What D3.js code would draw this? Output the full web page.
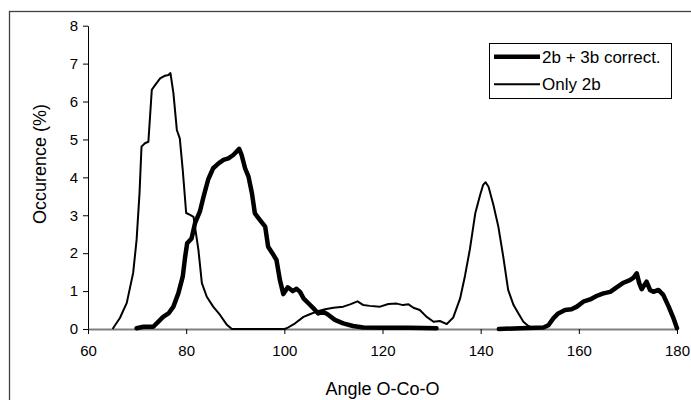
<!DOCTYPE html>
<html>
<head>
<meta charset="utf-8">
<script src="https://cdn.jsdelivr.net/npm/d3@7"></script>
<style>
  body { margin: 0; background: #fff; }
  svg { display: block; font-family: Arial, 'Liberation Sans', sans-serif; }
</style>
</head>
<body>
<script>
// data

const X_TICKS = [60, 80, 100, 120, 140, 160, 180]
const Y_TICKS = [0, 1, 2, 3, 4, 5, 6, 7, 8]

const SERIES_NAMES = ['2b + 3b correct.', 'Only 2b']

// "Only 2b" (thin line)
const only2bAngle = [65.0, 66.5, 67.9, 69.2, 69.9, 70.5, 70.9, 71.6, 72.3, 73.0, 73.7, 74.7, 75.7, 76.4, 76.8,
  77.4, 78.1, 78.7, 79.3, 80.0, 80.8, 81.5, 82.5, 83.2, 84.2, 85.5, 86.9, 88.3, 89.3, 100.0, 100.5, 102.2,
  103.9, 105.2, 106.6, 108.3, 110.0, 112.0, 113.4, 114.9, 116.1, 117.4, 119.5, 121.2, 122.9, 124.2, 125.3,
  126.3, 127.6, 129.0, 130.4, 131.7, 133.1, 134.4, 135.8, 136.8, 137.8, 138.9, 139.9, 140.5, 141.0, 141.6,
  142.6, 143.6, 144.6, 145.6, 146.7, 147.7, 148.7, 149.7, 151.0]
const only2bValue = [0, 0.29, 0.69, 1.48, 2.35, 3.59, 4.81, 4.90, 4.94, 6.31, 6.44, 6.61, 6.68, 6.70, 6.75,
  6.22, 5.25, 5.03, 4.20, 3.06, 3.01, 2.96, 2.08, 1.21, 0.85, 0.59, 0.37, 0.11, 0, 0, 0.02, 0.15,
  0.32, 0.39, 0.46, 0.52, 0.56, 0.59, 0.65, 0.73, 0.63, 0.61, 0.59, 0.66, 0.67, 0.63, 0.65,
  0.56, 0.50, 0.32, 0.19, 0.21, 0.13, 0.30, 0.80, 1.40, 2.10, 3.05, 3.54, 3.80, 3.87, 3.75,
  3.27, 2.70, 1.91, 1.03, 0.63, 0.41, 0.19, 0.08, 0]

// "2b + 3b correct." (thick line), null = gap
const correctedAngle = [69.9, 71.3, 73.3, 74.3, 75.3, 76.4, 77.4, 78.4, 79.3, 79.8, 80.2, 81.1, 81.8, 82.8,
  83.6, 84.5, 85.5, 86.6, 87.6, 88.6, 89.6, 90.8, 91.3, 92.0, 92.7, 93.4, 94.0, 95.0, 96.1, 96.7, 97.8,
  98.4, 99.1, 99.8, 100.7, 101.7, 102.5, 103.2, 103.9, 104.9, 105.9, 106.9, 107.9, 109.0, 110.3, 112.0,
  114.0, 116.1, 120.9, 125.6, 131.0, 137.0, 143.7, 148.0, 152.8, 153.8, 154.8, 155.8, 157.2, 158.5, 159.6,
  160.9, 162.3, 163.6, 165.0, 166.4, 167.7, 169.1, 170.4, 171.1, 171.8, 172.3, 172.8, 173.8, 174.5, 175.2,
  176.2, 177.2, 178.3, 179.3, 180.0]
const correctedValue = [0.02, 0.06, 0.06, 0.19, 0.32, 0.41, 0.59, 0.94, 1.38, 1.91, 2.26, 2.39, 2.79, 3.10,
  3.52, 3.95, 4.24, 4.37, 4.46, 4.50, 4.59, 4.75, 4.59, 4.24, 4.02, 3.58, 3.05, 2.88, 2.70, 2.17, 1.95,
  1.82, 1.29, 0.92, 1.10, 1.00, 1.06, 0.98, 0.81, 0.68, 0.55, 0.41, 0.46, 0.37, 0.24, 0.15,
  0.08, 0.04, 0.03, 0.03, 0.02, null, 0, 0.02, 0.04, 0.10, 0.28, 0.41, 0.50, 0.52, 0.59,
  0.72, 0.78, 0.87, 0.94, 0.98, 1.10, 1.22, 1.29, 1.35, 1.47, 1.21, 1.05, 1.25, 1.03, 0.98,
  1.03, 0.90, 0.59, 0.28, 0.02]

// layout

const WIDTH = 691, HEIGHT = 400
const PLOT = { left: 88, right: 677, top: 25.7, bottom: 329 }

const svg = d3.select('body').append('svg')
  .attr('width', WIDTH)
  .attr('height', HEIGHT)

// chart border (runs off the right / bottom of the picture)
svg.append('rect')
  .attr('x', 9.5).attr('y', 11.5)
  .attr('width', 700).attr('height', 400)
  .attr('fill', 'none')
  .attr('stroke', '#404040')
  .attr('stroke-width', 1.3)

const x = d3.scaleLinear().domain([60, 180]).range([PLOT.left, PLOT.right])
const y = d3.scaleLinear().domain([0, 8]).range([PLOT.bottom, PLOT.top])

// y axis
const yAxis = svg.append('g')
  .attr('transform', 'translate(' + PLOT.left + ',0)')
  .call(d3.axisLeft(y).tickValues(Y_TICKS).tickSize(5).tickPadding(5).tickSizeOuter(0))
yAxis.select('.domain').attr('stroke', '#000')
yAxis.selectAll('text').attr('font-size', 15).attr('fill', '#000').attr('font-family', null)

// x axis
const xAxis = svg.append('g')
  .attr('transform', 'translate(0,' + PLOT.bottom + ')')
  .call(d3.axisBottom(x).tickValues(X_TICKS).tickSize(5).tickPadding(11).tickSizeOuter(0))
xAxis.select('.domain').attr('stroke', '#808080').attr('stroke-width', 2)
xAxis.selectAll('text').attr('font-size', 15).attr('fill', '#000').attr('font-family', null)

// axis titles
svg.append('text')
  .attr('x', (PLOT.left + PLOT.right) / 2)
  .attr('y', 395)
  .attr('text-anchor', 'middle')
  .attr('font-size', 18)
  .text('Angle O-Co-O')

svg.append('text')
  .attr('transform', 'translate(46,164) rotate(-90)')
  .attr('text-anchor', 'middle')
  .attr('font-size', 18)
  .text('Occurence (%)')

// lines
const line = d3.line()
  .defined((d) => d[1] !== null)
  .x((d) => x(d[0]))
  .y((d) => y(d[1]))

const only2b = only2bAngle.map((a, i) => [a, only2bValue[i]])
const corrected = correctedAngle.map((a, i) => [a, correctedValue[i]])

svg.append('path')
  .attr('d', line(only2b))
  .attr('fill', 'none')
  .attr('stroke', '#000')
  .attr('stroke-width', 2)
  .attr('stroke-linejoin', 'round')

svg.append('path')
  .attr('d', line(corrected))
  .attr('fill', 'none')
  .attr('stroke', '#000')
  .attr('stroke-width', 4.5)
  .attr('stroke-linejoin', 'round')
  .attr('stroke-linecap', 'round')

// legend
const legend = svg.append('g').attr('transform', 'translate(489,43)')
legend.append('rect')
  .attr('x', 0.5).attr('y', 0.5)
  .attr('width', 182).attr('height', 55)
  .attr('fill', '#fff')
  .attr('stroke', '#000')

const LEGEND_WIDTHS = [4.5, 2]
SERIES_NAMES.forEach((name, i) => {
  const ly = 13.7 + i * 27.6
  legend.append('line')
    .attr('x1', 5).attr('x2', 51)
    .attr('y1', ly).attr('y2', ly)
    .attr('stroke', '#000')
    .attr('stroke-width', LEGEND_WIDTHS[i])
  legend.append('text')
    .attr('x', 53)
    .attr('y', ly)
    .attr('dy', '0.36em')
    .attr('font-size', 17)
    .text(name)
})
</script>
</body>
</html>
